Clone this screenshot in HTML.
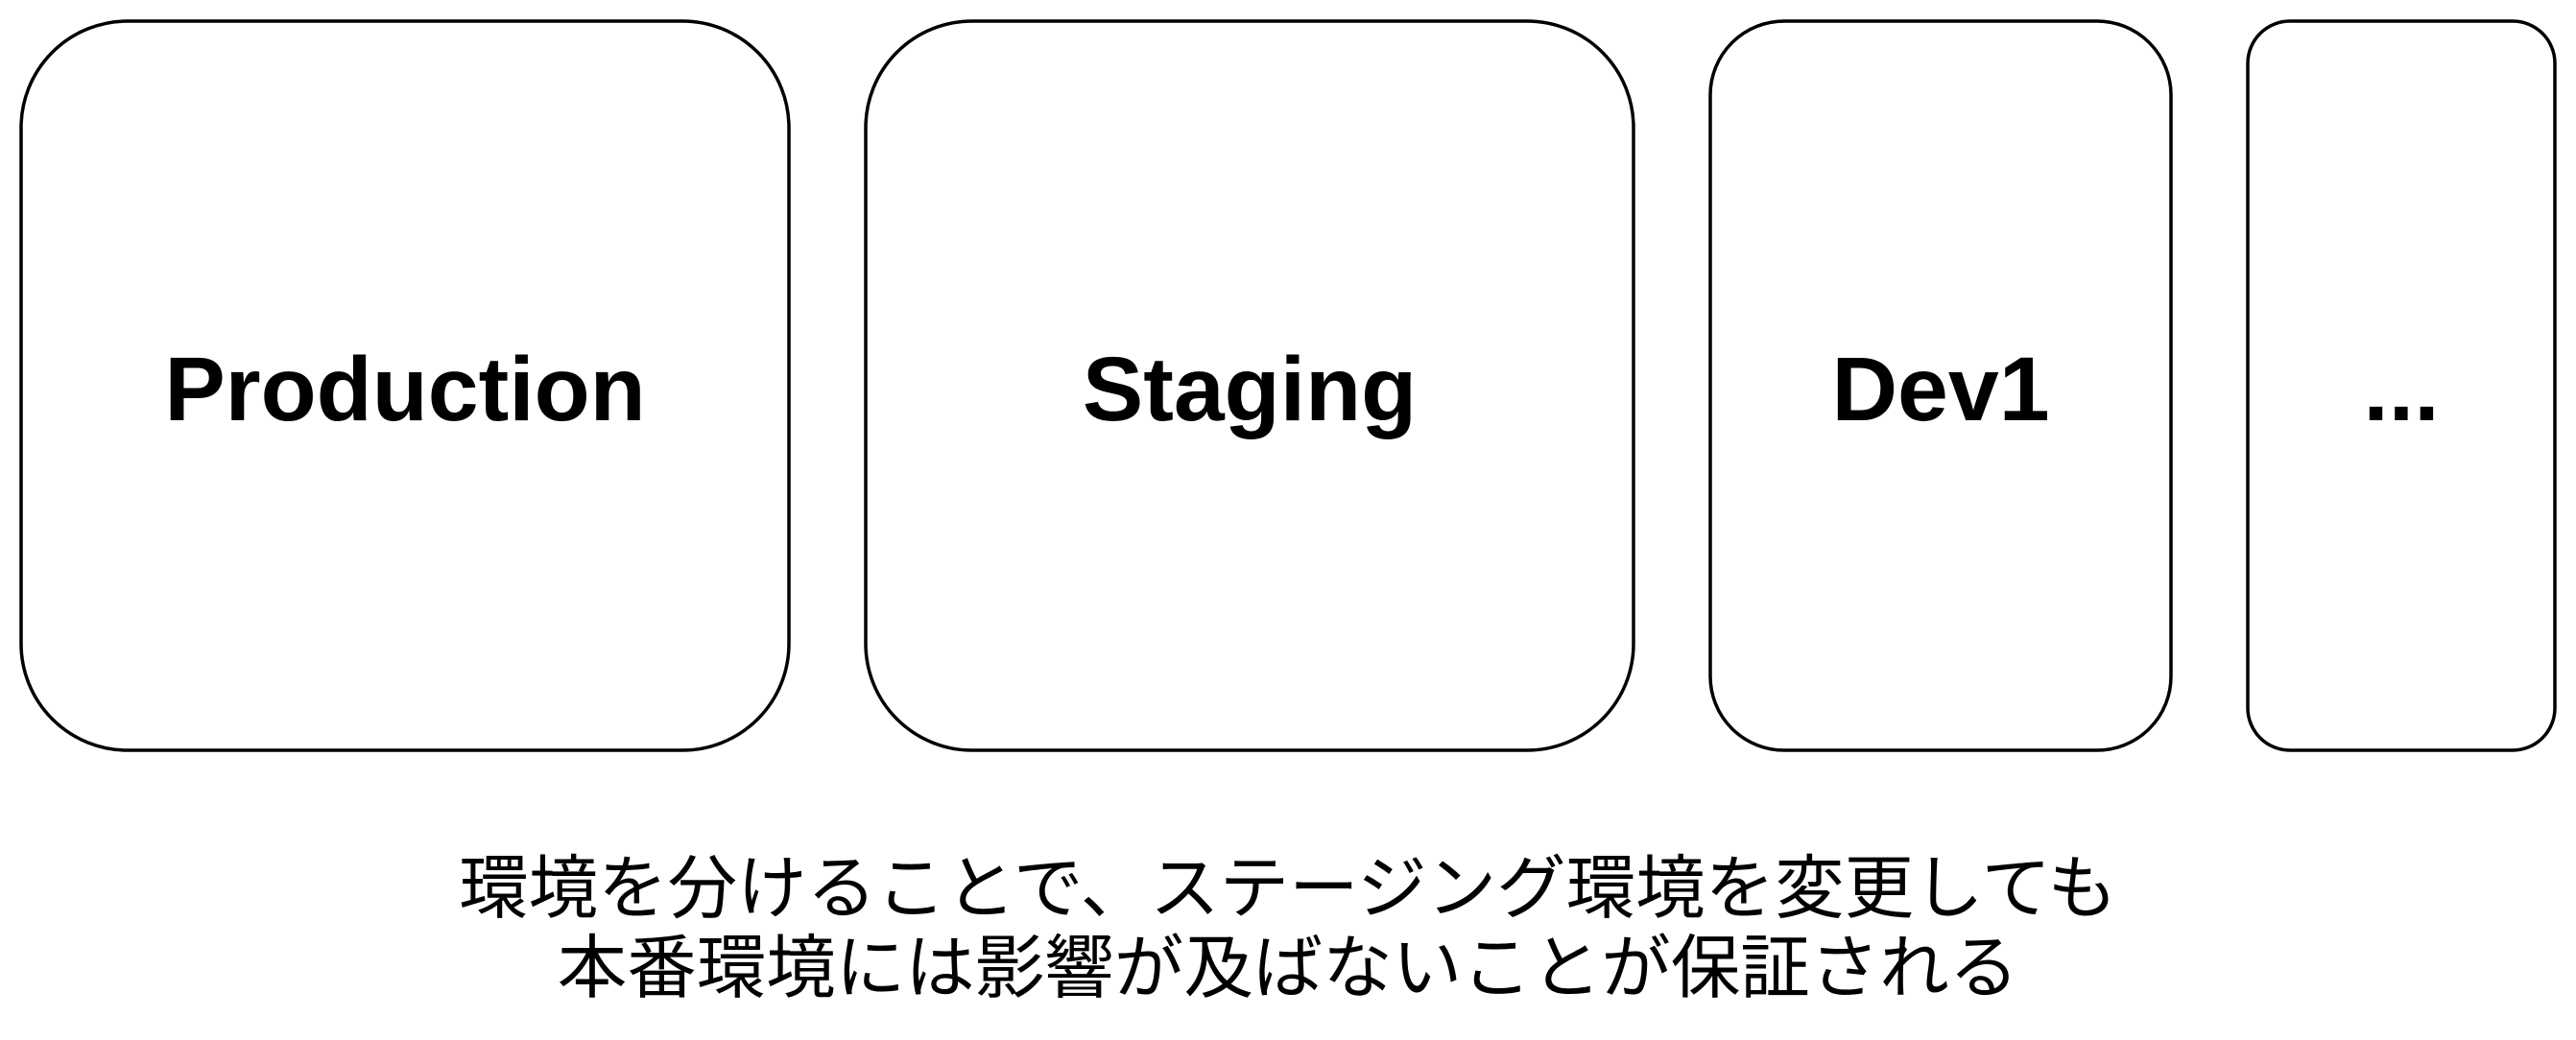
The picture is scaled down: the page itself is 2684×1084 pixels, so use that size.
<!DOCTYPE html>
<html><head><meta charset="utf-8"><style>
html,body{margin:0;padding:0;background:#fff;}
body{width:2684px;height:1084px;overflow:hidden;position:relative;}
svg{position:absolute;left:0;top:0;}
.jp{position:absolute;left:0;width:2684px;text-align:center;font-family:"Liberation Sans","Noto Sans CJK JP",sans-serif;font-size:72.5px;color:#000;line-height:83px;white-space:nowrap;}
</style></head><body>
<svg width="2684" height="1084" xmlns="http://www.w3.org/2000/svg">
<g fill="#fff" stroke="#000" stroke-width="3.5">
<rect x="22" y="22" width="800" height="760" rx="111" ry="111"/>
<rect x="902" y="22" width="800" height="760" rx="111" ry="111"/>
<rect x="1782" y="22" width="480" height="760" rx="77" ry="77"/>
<rect x="2342" y="22" width="320" height="760" rx="44" ry="44"/>
</g>
<g font-family="Liberation Sans, Arial, sans-serif" font-weight="bold" font-size="95" text-anchor="middle" fill="#000">
<text x="422" y="438">Production</text>
<text x="1302" y="438">Staging</text>
<text x="2022" y="438">Dev1</text>
<text x="2502" y="438">...</text>
</g>
</svg>
<div class="jp" style="top:885px;">環境を分けることで、ステージング環境を変更しても</div>
<div class="jp" style="top:968px;">本番環境には影響が及ばないことが保証される</div>
</body></html>
